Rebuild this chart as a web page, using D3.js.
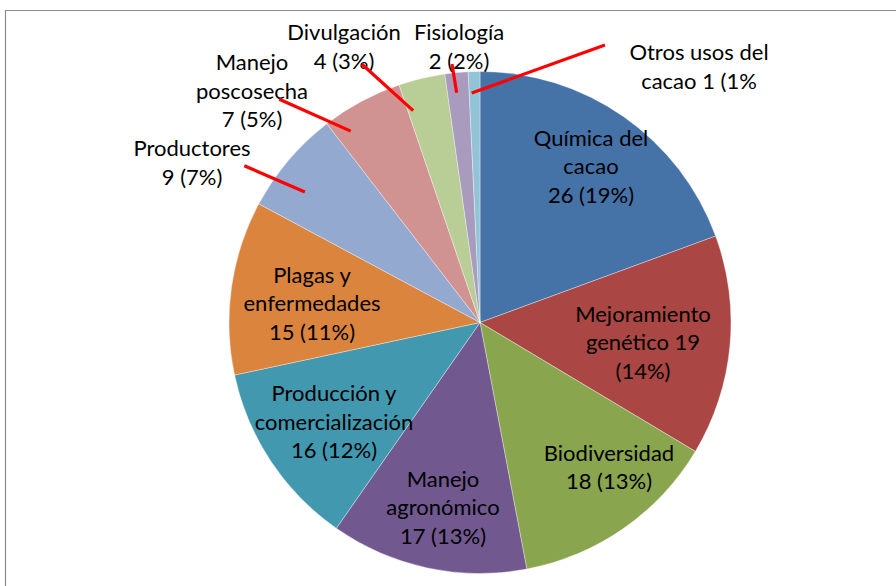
<!DOCTYPE html>
<html>
<head>
<meta charset="utf-8">
<script src="https://cdn.jsdelivr.net/npm/d3@7"></script>
<style>
html,body{margin:0;padding:0;background:#fff;}
svg{display:block;}
</style>
</head>
<body>
<svg id="chart" width="896" height="586"></svg>
<script>
// ---- data ----
const categories = ["Química del cacao","Mejoramiento genético","Biodiversidad","Manejo agronómico",
  "Producción y comercialización","Plagas y enfermedades","Productores","Manejo poscosecha",
  "Divulgación","Fisiología","Otros usos del cacao"];
const values = [26,19,18,17,16,15,9,7,4,2,1];
const pctLabels = ["19%","14%","13%","13%","12%","11%","7%","5%","3%","2%","1%"];
const labelLines = [
  ["Química del","cacao","26 (19%)"],
  ["Mejoramiento","genético 19","(14%)"],
  ["Biodiversidad","18 (13%)"],
  ["Manejo","agronómico","17 (13%)"],
  ["Producción y","comercialización","16 (12%)"],
  ["Plagas y","enfermedades","15 (11%)"],
  ["Productores","9 (7%)"],
  ["Manejo","poscosecha","7 (5%)"],
  ["Divulgación","4 (3%)"],
  ["Fisiología","2 (2%)"],
  ["Otros usos del","cacao 1 (1%"]
];
const colors = ["#4572A7","#AA4643","#89A54E","#71588F","#4198AF","#DB843D",
  "#93A9CF","#D19392","#B9CD96","#A99BBD","#92C3D6"];

// ---- layout (label anchors relative to pie centre: x centre, first baseline) ----
const cx = 480, cy = 322.5, R = 251;
const labelPos = [
  [111,-177],[163,-1],[129,138],[-37,164],[-146,78.5],[-168,-40],
  [-288,-166.5],[-228,-252.5],[-136,-282.5],[-21,-282.5],[219,-262.5]
];
// leader lines: [index, fraction along slice, radius fraction, outer-end offset from label's first baseline]
const leaders = [
  [10,0.23,0.915,[-94,-15]],
  [9,0.42,0.92,[-7,24]],
  [8,0.12,0.885,[18,24.3]],
  [7,0.19,0.92,[27.3,29.3]],
  [6,0.35,0.87,[52.3,9.7]]
];
const lineH = 28.5;

const svg = d3.select("#chart");
// frame
svg.append("path")
  .attr("d","M5.5,600 V10.5 H900")
  .attr("fill","none").attr("stroke","#8c8c8c").attr("stroke-width",1.2);

const pie = d3.pie().sort(null).value(d=>d)(values);
const arc = d3.arc().innerRadius(0).outerRadius(R);
const g = svg.append("g").attr("transform",`translate(${cx},${cy})`);
g.selectAll("path.slice").data(pie).join("path")
  .attr("class","slice")
  .attr("d",arc)
  .attr("fill",(d,i)=>colors[i])
  .attr("stroke","#ffffff").attr("stroke-opacity",0.45).attr("stroke-width",0.8);

// labels
const tg = g.append("g")
  .attr("font-family","Lato, 'Open Sans', sans-serif")
  .attr("font-size",22).attr("fill","#000").attr("text-anchor","middle");
labelLines.forEach((lines,i)=>{
  const t = tg.append("text");
  lines.forEach((s,j)=>{
    t.append("tspan").attr("x",labelPos[i][0]).attr("y",labelPos[i][1]+j*lineH).text(s);
  });
});

// leader lines
leaders.forEach(([i,f,rf,off])=>{
  const p = pie[i];
  const a = p.startAngle + f*(p.endAngle-p.startAngle);
  const x1 = Math.sin(a)*R*rf, y1 = -Math.cos(a)*R*rf;
  const x2 = labelPos[i][0]+off[0], y2 = labelPos[i][1]+off[1];
  g.append("line").attr("x1",x2).attr("y1",y2).attr("x2",x1).attr("y2",y1)
    .attr("stroke","#ff0000").attr("stroke-width",3.2);
});
</script>
</body>
</html>
